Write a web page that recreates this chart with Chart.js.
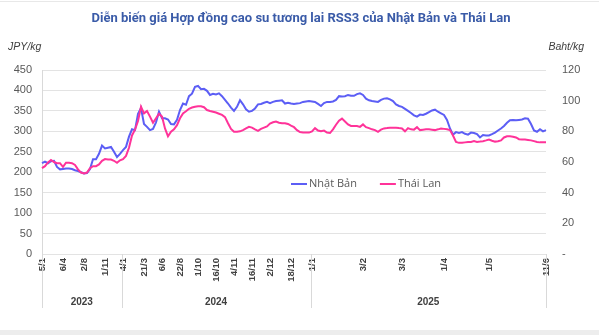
<!DOCTYPE html>
<html>
<head>
<meta charset="utf-8">
<script src="https://cdn.jsdelivr.net/npm/chart.js@4.4.1/dist/chart.umd.min.js"></script>
<style>
  html, body { margin: 0; padding: 0; background: #fff; }
  #wrap { position: relative; width: 599px; height: 335px; overflow: hidden; }
  #topline { position: absolute; left: 0; top: 1px; width: 599px; height: 1px; background: #e8e8e8; }
  #band { position: absolute; left: 0; top: 330px; width: 599px; height: 5px; background: #ededed; }
  canvas { position: absolute; left: 0; top: 0; }
</style>
</head>
<body>
<div id="wrap">
  <div id="topline"></div>
  <div id="band"></div>
  <canvas id="chart" width="599" height="335"></canvas>
</div>
<script>
// tieu de + don vi
const titleText = 'Diễn biến giá Hợp đồng cao su tương lai RSS3 của Nhật Bản và Thái Lan';
const leftUnit = 'JPY/kg';
const rightUnit = 'Baht/kg';
const seriesNames = ['Nhật Bản', 'Thái Lan'];

// nhan truc x (chi hien o mot so diem)
const tickLabels = ['5/1', '6/4', '2/8', '1/11', '4/1', '21/3', '6/6', '22/8', '1/10', '16/10',
  '4/11', '16/11', '2/12', '18/12', '1/1', '3/2', '3/3', '1/4', '1/5', '11/6'];
const tickIndex = [0, 7, 14, 21, 27, 34, 40, 46, 52, 58, 64, 70, 76, 83, 90, 107, 120, 134, 149, 168];

// nhom nam
const years = ['2023', '2024', '2025'];
const yearStart = [0, 27, 90];

// gia Nhat Ban (JPY/kg) - truc trai
const japan = [
  222, 226, 222, 227, 228, 213, 207, 208, 209, 209,
  208, 205, 203, 200, 197, 198, 208, 232, 232, 245,
  265, 258, 260, 262, 250, 237, 245, 254, 262, 287,
  305, 303, 343, 357, 318, 311, 303, 306, 322, 348,
  332, 332, 329, 318, 317, 328, 352, 368, 365, 386,
  392, 409, 411, 403, 404, 399, 389, 392, 390, 393,
  386, 377, 368, 358, 350, 360, 376, 366, 354, 348,
  350, 356, 366, 367, 370, 372, 369, 372, 374, 375,
  376, 368, 370, 368, 367, 368, 369, 372, 373, 374,
  373, 372, 367, 362, 369, 372, 372, 373, 377, 386,
  385, 386, 389, 387, 387, 391, 393, 389, 380, 376,
  374, 373, 372, 377, 380, 381, 378, 374, 366, 362,
  360, 355, 350, 345, 339, 336, 341, 340, 343, 347,
  351, 353, 348, 344, 340, 328, 307, 292, 298, 296,
  298, 294, 292, 297, 296, 293, 285, 291, 290, 290,
  293, 297, 302, 307, 313, 321, 327, 328, 327, 328,
  329, 332, 331, 318, 302, 299, 305, 300, 303
];

// gia Thai Lan (Baht/kg) - truc phai
const thailand = [
  56.0, 57.3, 59.7, 61.3, 60.0, 59.2, 59.2, 56.8, 59.5, 59.5,
  59.2, 58.1, 55.2, 53.1, 52.5, 53.1, 56.0, 57.3, 57.3, 58.4,
  60.8, 61.9, 61.6, 61.6, 60.8, 59.5, 61.1, 61.9, 64.0, 69.3,
  77.3, 81.1, 86.7, 96.0, 91.7, 93.3, 89.6, 85.6, 88.5, 91.5,
  89.6, 81.9, 76.8, 79.7, 81.3, 84.0, 88.5, 91.7, 93.1, 94.7,
  95.5, 96.0, 96.3, 96.3, 95.7, 93.9, 93.3, 92.8, 92.3, 91.5,
  90.7, 89.3, 85.3, 81.6, 79.7, 79.7, 80.0, 80.8, 81.9, 82.9,
  82.4, 81.3, 80.3, 81.6, 82.4, 83.2, 85.1, 85.9, 86.4, 85.6,
  85.3, 85.3, 84.8, 83.7, 82.7, 80.8, 79.5, 79.2, 79.2, 79.2,
  80.0, 82.1, 80.5, 80.0, 80.5, 79.2, 78.9, 81.3, 84.3, 86.9,
  88.3, 86.4, 84.5, 83.5, 83.5, 83.5, 82.9, 84.5, 82.7, 82.1,
  81.3, 80.8, 79.7, 81.1, 81.9, 82.1, 82.4, 82.4, 82.4, 82.1,
  81.9, 80.0, 82.1, 81.3, 81.1, 82.7, 80.8, 81.1, 81.3, 81.3,
  81.1, 80.8, 81.3, 81.9, 81.6, 81.3, 80.8, 77.3, 73.1, 72.5,
  72.5, 72.8, 73.1, 73.1, 73.6, 73.1, 73.3, 73.6, 74.1, 74.7,
  73.9, 73.3, 73.6, 74.1, 76.0, 76.8, 76.8, 76.5, 76.0, 74.9,
  74.7, 74.7, 74.4, 74.1, 73.6, 73.1, 72.8, 72.8, 72.8
];

const blue = '#5c5ef5';
const pink = '#ff3399';

const labels = japan.map((v, i) => {
  const k = tickIndex.indexOf(i);
  return k >= 0 ? tickLabels[k] : '';
});

// ve tieu de, don vi, chu giai va nhom nam
const decoPlugin = {
  id: 'deco',
  afterDraw(chart) {
    const ctx = chart.ctx;
    const area = chart.chartArea;
    const x = chart.scales.x;
    ctx.save();

    // tieu de
    ctx.fillStyle = '#3a5ba8';
    ctx.font = 'bold 13px Roboto';
    ctx.textAlign = 'center';
    ctx.textBaseline = 'middle';
    ctx.fillText(titleText, 301, 19);

    // don vi
    ctx.fillStyle = '#404040';
    ctx.font = 'italic 10.5px "Liberation Sans"';
    ctx.textAlign = 'left';
    ctx.fillText(leftUnit, 8, 47);
    ctx.textAlign = 'right';
    ctx.fillText(rightUnit, 584, 47);

    // chu giai
    ctx.font = '11px "Open Sans"';
    ctx.textAlign = 'left';
    let lx = 291;
    const ly = 184;
    chart.data.datasets.forEach(ds => {
      ctx.strokeStyle = ds.borderColor;
      ctx.lineWidth = 2;
      ctx.beginPath();
      ctx.moveTo(lx, ly);
      ctx.lineTo(lx + 16, ly);
      ctx.stroke();
      ctx.fillStyle = '#595959';
      ctx.fillText(ds.label, lx + 18, ly);
      lx += 18 + ctx.measureText(ds.label).width + 23;
    });

    // vach chia nam
    const edges = yearStart.map(i => i === 0 ? x.left : (x.getPixelForValue(i - 1) + x.getPixelForValue(i)) / 2);
    edges.push(x.right);
    ctx.strokeStyle = '#d9d9d9';
    ctx.lineWidth = 1;
    edges.forEach(px => {
      ctx.beginPath();
      ctx.moveTo(Math.round(px) + 0.5, area.bottom);
      ctx.lineTo(Math.round(px) + 0.5, area.bottom + 54);
      ctx.stroke();
    });
    ctx.fillStyle = '#404040';
    ctx.font = 'bold 10px "Liberation Sans"';
    ctx.textAlign = 'center';
    years.forEach((y, k) => ctx.fillText(y, (edges[k] + edges[k + 1]) / 2, area.bottom + 48));

    ctx.restore();
  }
};

new Chart(document.getElementById('chart'), {
  type: 'line',
  data: {
    labels: labels,
    datasets: [
      { label: seriesNames[0], data: japan, yAxisID: 'y', borderColor: blue, order: 1 },
      { label: seriesNames[1], data: thailand, yAxisID: 'y1', borderColor: pink, order: 0 }
    ]
  },
  options: {
    responsive: false,
    animation: false,
    layout: { padding: { top: 70, left: 0, right: 0, bottom: 0 } },
    elements: {
      point: { radius: 0 },
      line: { borderWidth: 2, tension: 0 }
    },
    plugins: {
      legend: { display: false },
      title: { display: false },
      tooltip: { enabled: false }
    },
    scales: {
      x: {
        grid: { display: false, drawTicks: false },
        border: { display: false },
        ticks: {
          autoSkip: false,
          maxRotation: 90,
          minRotation: 90,
          padding: 4,
          color: '#404040',
          font: { family: 'Liberation Sans', size: 9.5, weight: 'bold' }
        },
        afterFit(scale) { scale.height = 81; }
      },
      y: {
        position: 'left',
        min: 0,
        max: 450,
        grid: { color: '#e3e3e3', drawTicks: false },
        border: { display: true, color: '#d9d9d9' },
        ticks: {
          stepSize: 50,
          padding: 10,
          color: '#595959',
          font: { family: 'Liberation Sans', size: 11 }
        },
        afterFit(scale) { scale.width = 42; }
      },
      y1: {
        position: 'right',
        min: 0,
        max: 120,
        grid: { display: false, drawTicks: false },
        border: { display: false },
        ticks: {
          stepSize: 20,
          padding: 16,
          color: '#595959',
          font: { family: 'Liberation Sans', size: 11 },
          callback: v => v === 0 ? '-' : v
        },
        afterFit(scale) { scale.width = 53; }
      }
    }
  },
  plugins: [decoPlugin]
});
</script>
</body>
</html>
